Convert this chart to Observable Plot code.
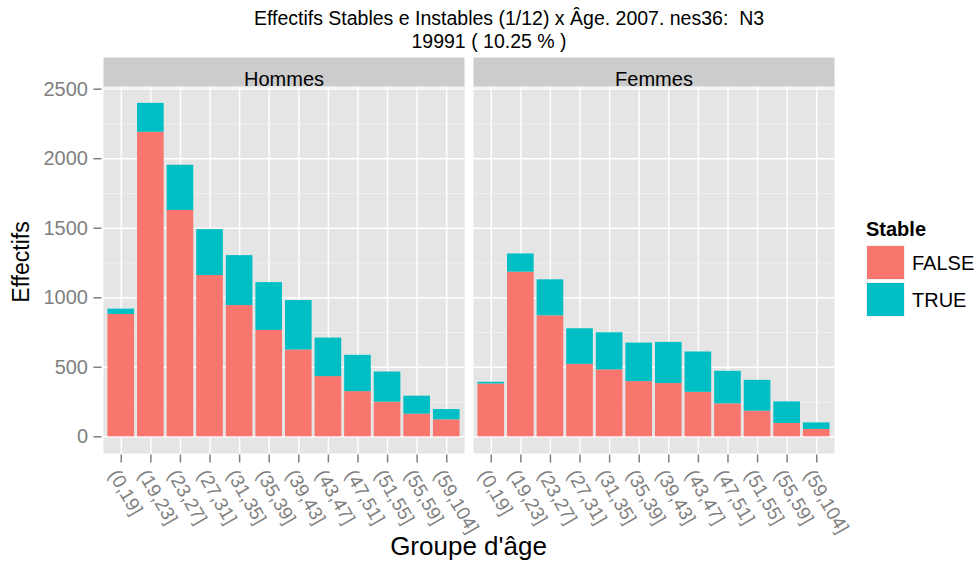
<!DOCTYPE html>
<html>
<head>
<meta charset="utf-8">
<script src="https://cdn.jsdelivr.net/npm/d3@7"></script>
<script src="https://cdn.jsdelivr.net/npm/@observablehq/plot@0.6"></script>
<style>
  html, body { margin: 0; padding: 0; background: white; }
  #wrap { position: relative; width: 978px; height: 561px; font-family: "Liberation Sans", Arial, Helvetica, sans-serif; overflow: hidden; }
  #wrap svg { position: absolute; left: 0; top: 0; }
  .ov { position: absolute; white-space: pre; color: black; line-height: 1; }
  .key { position: absolute; width: 39px; height: 35px; box-sizing: border-box; border: 1px solid #f2f2f2; }
</style>
</head>
<body>
<div id="wrap"></div>
<script>
// ---- data ----
const ageGroups = ["(0,19]","(19,23]","(23,27]","(27,31]","(31,35]","(35,39]","(39,43]","(43,47]","(47,51]","(51,55]","(55,59]","(59,104]"];
const sexes = ["Hommes","Femmes"];
const stableLevels = ["FALSE","TRUE"];
const hommesFalse = [880, 2190, 1628, 1160, 944, 765, 624, 433, 325, 249, 163, 122];
const hommesTrue  = [38, 208, 325, 330, 359, 344, 356, 277, 261, 217, 129, 74];
const femmesFalse = [380, 1184, 870, 521, 481, 397, 383, 320, 237, 184, 96, 53];
const femmesTrue  = [12, 131, 259, 256, 267, 277, 296, 290, 234, 222, 155, 47];
const yTicks = [0, 500, 1000, 1500, 2000, 2500];
const yMinorTicks = [250, 750, 1250, 1750, 2250];
const titleLine1 = "Effectifs Stables e Instables (1/12) x Âge. 2007. nes36:  N3";
const titleLine2 = "19991 ( 10.25 % )";
const xTitle = "Groupe d'âge";
const yTitle = "Effectifs";
const legendTitle = "Stable";

const fillColors = ["#F8766D", "#00BFC4"];

// build table
const series = {Hommes: [hommesFalse, hommesTrue], Femmes: [femmesFalse, femmesTrue]};
const data = [];
for (const sex of sexes) {
  ageGroups.forEach((age, i) => {
    stableLevels.forEach((st, k) => {
      data.push({sex, age, stable: st, n: series[sex][k][i]});
    });
  });
}

const chart = Plot.plot({
  width: 978,
  height: 561,
  marginTop: 87,
  marginBottom: 108,
  marginLeft: 103,
  marginRight: 143.5,
  style: {fontFamily: "Liberation Sans, Arial, Helvetica, sans-serif", background: "transparent", overflow: "visible"},
  fx: {domain: sexes, paddingInner: 0.0233, paddingOuter: 0, axis: null, label: null},
  x: {domain: ageGroups, paddingInner: 0.1, paddingOuter: 0.15, round: false, label: null},
  y: {domain: [-120, 2512], label: null},
  color: {domain: stableLevels, range: fillColors},
  marks: [
    Plot.frame({fill: "#E5E5E5", stroke: "none"}),
    Plot.gridY(yMinorTicks, {stroke: "#F2F2F2", strokeOpacity: 1, strokeWidth: 0.9}),
    Plot.gridY(yTicks, {stroke: "white", strokeOpacity: 1, strokeWidth: 1.4}),
    Plot.gridX({stroke: "white", strokeOpacity: 1, strokeWidth: 1.4}),
    Plot.barY(data, Plot.stackY({fx: "sex", x: "age", y: "n", fill: "stable"})),
    Plot.frame({fill: "#CCCCCC", stroke: "none", insetTop: -30, insetBottom: 367}),
    Plot.text(sexes, {fx: d => d, text: d => d, frameAnchor: "top", dy: -15.5, fontSize: 20, fill: "black"}),
    Plot.axisY(yTicks, {tickSize: 8, tickPadding: 6, fontSize: 20, fill: "#7F7F7F", stroke: "#7F7F7F", strokeWidth: 1.5, dx: -1.5, label: null, tickFormat: d => String(d)}),
    Plot.axisX({tickSize: 8, text: null, stroke: "#7F7F7F", strokeWidth: 1.5, dy: 1.5, label: null}),
    Plot.axisX({tickSize: 0, tickPadding: 13.5, tickRotate: 60, fontSize: 19, fill: "#7F7F7F", dx: -8, dy: 4.5, label: null})
  ]
});

const wrap = document.getElementById("wrap");
wrap.appendChild(chart);

function addDiv(text, css, cls = "ov") {
  const d = document.createElement("div");
  d.className = cls;
  d.textContent = text;
  Object.assign(d.style, css);
  wrap.appendChild(d);
  return d;
}

// title
addDiv(titleLine1, {left: "509px", top: "19px", fontSize: "19.5px", transform: "translate(-50%,-50%)"});
addDiv(titleLine2, {left: "489px", top: "42px", fontSize: "19.5px", transform: "translate(-50%,-50%)"});
// axis titles
addDiv(xTitle, {left: "468.5px", top: "546px", fontSize: "26px", transform: "translate(-50%,-50%)"});
addDiv(yTitle, {left: "21px", top: "262px", fontSize: "23px", transform: "translate(-50%,-50%) rotate(-90deg)"});
// legend
addDiv(legendTitle, {left: "866px", top: "229px", fontSize: "20px", fontWeight: "bold", transform: "translateY(-50%)"});
stableLevels.forEach((lv, i) => {
  addDiv("", {left: "866px", top: (245 + i * 36.5) + "px", background: fillColors[i]}, "key");
  addDiv(lv, {left: "912px", top: (263 + i * 36.5) + "px", fontSize: "20px", transform: "translateY(-50%)"});
});
</script>
</body>
</html>
